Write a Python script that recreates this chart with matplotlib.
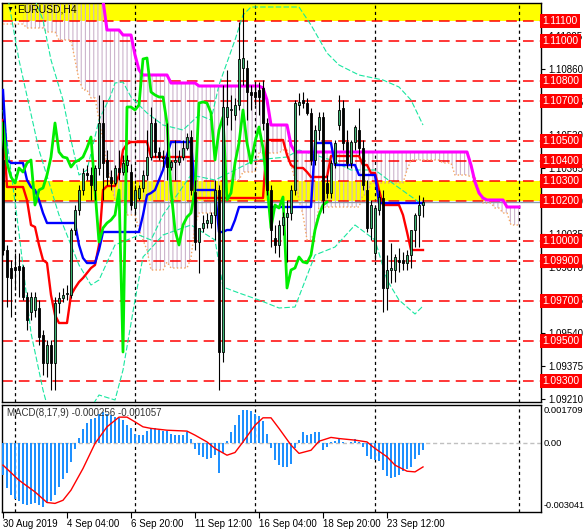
import numpy as np
import matplotlib
matplotlib.use("Agg")
import matplotlib.pyplot as plt
from matplotlib.patches import Rectangle

plt.rcParams['font.family'] = ['Liberation Sans', 'DejaVu Sans']
plt.rcParams['hatch.linewidth'] = 0.8

# EURUSD H4 candles, bar 0 = 30 Aug 2019
opens = [1.10405, 1.09955, 1.09865, 1.09870, 1.09875, 1.09870, 1.09720, 1.09645, 1.09655, 1.09665,
         1.09530, 1.09390, 1.09480, 1.09390, 1.09690, 1.09715, 1.09735, 1.09730, 1.10055, 1.10155,
         1.10255, 1.10340, 1.10330, 1.10255, 1.10365, 1.10590, 1.10405, 1.10320, 1.10290, 1.10365,
         1.10345, 1.10380, 1.10345, 1.10165, 1.10215, 1.10265, 1.10330, 1.10420, 1.10590, 1.10445,
         1.10420, 1.10420, 1.10370, 1.10395, 1.10395, 1.10420, 1.10465, 1.10520, 1.10245, 1.09995,
         1.10065, 1.10090, 1.10090, 1.10130, 1.10255, 1.09445, 1.10620, 1.10655, 1.10630, 1.10680,
         1.10865, 1.10865, 1.10745, 1.10745, 1.10755, 1.10765, 1.10590, 1.10255, 1.10015, 1.09980,
         1.10080, 1.10120, 1.10140, 1.10255, 1.10680, 1.10705, 1.10690, 1.10640, 1.10405, 1.10555,
         1.10620, 1.10290, 1.10240, 1.10390, 1.10580, 1.10665, 1.10495, 1.10390, 1.10495, 1.10555,
         1.10465, 1.10255, 1.10065, 1.09940, 1.10155, 1.10215, 1.09765, 1.09855, 1.09855, 1.09905,
         1.09905, 1.09890, 1.09930, 1.10055, 1.10130, 1.10180]
highs = [1.10605, 1.09980, 1.09905, 1.09940, 1.09940, 1.09880, 1.09745, 1.09745, 1.09745, 1.09705,
         1.09555, 1.09505, 1.09505, 1.09720, 1.09745, 1.09765, 1.09780, 1.10065, 1.10180, 1.10280,
         1.10365, 1.10380, 1.10370, 1.10380, 1.10730, 1.10705, 1.10455, 1.10355, 1.10380, 1.10455,
         1.10430, 1.10430, 1.10385, 1.10280, 1.10280, 1.10355, 1.10555, 1.10670, 1.10615, 1.10470,
         1.10455, 1.10590, 1.10405, 1.10505, 1.10455, 1.10505, 1.10540, 1.10555, 1.10305, 1.10055,
         1.10130, 1.10140, 1.10145, 1.10305, 1.10280, 1.10780, 1.10855, 1.10730, 1.10715, 1.11095,
         1.11165, 1.10905, 1.10780, 1.10795, 1.10795, 1.10805, 1.10615, 1.10280, 1.10080, 1.10105,
         1.10145, 1.10205, 1.10280, 1.10705, 1.10740, 1.10745, 1.10715, 1.10665, 1.10580, 1.10645,
         1.10645, 1.10330, 1.10405, 1.10505, 1.10730, 1.10705, 1.10555, 1.10505, 1.10580, 1.10665,
         1.10505, 1.10305, 1.10205, 1.10180, 1.10255, 1.10255, 1.09930, 1.09990, 1.09935, 1.09965,
         1.09945, 1.09955, 1.10055, 1.10140, 1.10230, 1.10220]
lows = [1.09930, 1.09670, 1.09620, 1.09755, 1.09720, 1.09705, 1.09555, 1.09605, 1.09620, 1.09480,
        1.09330, 1.09320, 1.09255, 1.09255, 1.09640, 1.09695, 1.09705, 1.09715, 1.10030, 1.10130,
        1.10230, 1.10305, 1.10205, 1.10205, 1.10330, 1.10205, 1.10280, 1.10255, 1.10280, 1.10305,
        1.10330, 1.10345, 1.10155, 1.10130, 1.10205, 1.10245, 1.10305, 1.10405, 1.10420, 1.10405,
        1.10370, 1.10305, 1.10355, 1.10305, 1.10380, 1.10405, 1.10455, 1.10230, 1.09955, 1.09840,
        1.10045, 1.10065, 1.10065, 1.10005, 1.09255, 1.09395, 1.10580, 1.10555, 1.10605, 1.10655,
        1.10780, 1.10605, 1.10655, 1.10680, 1.10630, 1.10555, 1.10230, 1.09970, 1.09940, 1.09920,
        1.10030, 1.09895, 1.10105, 1.10230, 1.10630, 1.10665, 1.10630, 1.10380, 1.10380, 1.10505,
        1.10140, 1.10215, 1.10215, 1.10365, 1.10555, 1.10455, 1.10365, 1.10365, 1.10455, 1.10430,
        1.10255, 1.10045, 1.10005, 1.09905, 1.10130, 1.09645, 1.09655, 1.09790, 1.09795, 1.09845,
        1.09855, 1.09855, 1.09865, 1.09970, 1.09970, 1.10120]
closes = [1.09955, 1.09820, 1.09815, 1.09855, 1.09855, 1.09720, 1.09605, 1.09720, 1.09720, 1.09520,
          1.09390, 1.09480, 1.09390, 1.09690, 1.09715, 1.09730, 1.09740, 1.10055, 1.10155, 1.10255,
          1.10340, 1.10330, 1.10280, 1.10365, 1.10590, 1.10390, 1.10320, 1.10290, 1.10365, 1.10345,
          1.10390, 1.10405, 1.10180, 1.10255, 1.10265, 1.10330, 1.10420, 1.10590, 1.10445, 1.10420,
          1.10415, 1.10370, 1.10395, 1.10405, 1.10420, 1.10465, 1.10520, 1.10255, 1.09995, 1.10065,
          1.10090, 1.10105, 1.10130, 1.10255, 1.09445, 1.10670, 1.10670, 1.10655, 1.10680, 1.10910,
          1.10915, 1.10745, 1.10730, 1.10720, 1.10720, 1.10590, 1.10255, 1.10055, 1.09980, 1.10080,
          1.10120, 1.10140, 1.10255, 1.10690, 1.10695, 1.10690, 1.10640, 1.10405, 1.10555, 1.10620,
          1.10205, 1.10240, 1.10390, 1.10490, 1.10655, 1.10490, 1.10390, 1.10495, 1.10570, 1.10465,
          1.10280, 1.10065, 1.10180, 1.10165, 1.10220, 1.09765, 1.09855, 1.09865, 1.09920, 1.09895,
          1.09890, 1.09930, 1.10055, 1.10130, 1.10180, 1.10195]

# Ichimoku lines as (bars, value) runs
tenkan_runs = [(1, 1.10605), (5, 1.10270), (1, 1.10205), (1, 1.10080), (1, 1.10070), (1, 1.09980),
               (1, 1.09905), (1, 1.09890), (1, 1.09730), (1, 1.09630), (3, 1.09590), (1, 1.09730),
               (1, 1.09765), (1, 1.09795), (1, 1.09815), (1, 1.09840), (1, 1.09865), (1, 1.09880),
               (1, 1.09980), (1, 1.10255), (3, 1.10275), (1, 1.10330), (1, 1.10455), (1, 1.10485),
               (5, 1.10495), (11, 1.10420), (18, 1.10215), (5, 1.10505), (1, 1.10430), (1, 1.10380),
               (3, 1.10365), (1, 1.10345), (5, 1.10320), (8, 1.10425), (2, 1.10380), (2, 1.10340),
               (1, 1.10255), (5, 1.10180), (1, 1.10130), (1, 1.10045), (4, 1.09955)]
kijun_runs = [(1, 1.10755), (1, 1.10405), (4, 1.10390), (1, 1.10305), (1, 1.10270), (1, 1.10255),
              (1, 1.10205), (1, 1.10140), (8, 1.10090), (1, 1.09980), (1, 1.09915), (3, 1.09890),
              (1, 1.09955), (10, 1.10045), (1, 1.10130), (1, 1.10230), (1, 1.10240), (1, 1.10255),
              (1, 1.10305), (1, 1.10355), (1, 1.10430), (6, 1.10495), (6, 1.10255), (2, 1.10045),
              (2, 1.10055), (1, 1.10105), (19, 1.10170), (5, 1.10490), (6, 1.10380), (5, 1.10330),
              (12, 1.10190)]
span_a_runs = [(6, 1.11085), (5, 1.11065), (3, 1.11045), (4, 1.11005), (1, 1.10905), (1, 1.10805),
               (2, 1.10755), (2, 1.10715), (1, 1.10605), (1, 1.10505), (1, 1.10380), (1, 1.10280),
               (3, 1.10205), (3, 1.10130), (1, 1.10055), (1, 1.10005), (1, 1.09955), (4, 1.09855),
               (1, 1.09895), (5, 1.09865), (1, 1.09915), (1, 1.10080), (5, 1.10140), (3, 1.10280),
               (3, 1.10305), (4, 1.10345), (6, 1.10440), (2, 1.10455), (1, 1.10380), (1, 1.10305),
               (1, 1.10205), (1, 1.10130), (2, 1.10005), (1, 1.10055), (11, 1.10170), (2, 1.10230),
               (9, 1.10290), (1, 1.10355), (8, 1.10405), (3, 1.10390), (4, 1.10330), (2, 1.10320),
               (1, 1.10255), (3, 1.10190), (2, 1.10165), (2, 1.10140), (3, 1.10080)]
span_b_runs = [(6, 1.11085), (19, 1.11405), (1, 1.11205), (4, 1.11055), (3, 1.11030), (1, 1.10930),
               (1, 1.10855), (7, 1.10830), (7, 1.10790), (16, 1.10775), (1, 1.10765), (1, 1.10705),
               (5, 1.10580), (1, 1.10480), (44, 1.10445), (1, 1.10380), (1, 1.10295), (1, 1.10240),
               (1, 1.10215), (5, 1.10205), (4, 1.10170)]

# Bollinger band lines read at bends (bar, price)
bb_upper = [(0, 1.11900), (8, 1.11205), (10, 1.11105), (12, 1.10905), (15, 1.10705), (17, 1.10505),
            (19, 1.10330), (21, 1.10355), (24, 1.10605), (27, 1.10730), (28, 1.10790), (30, 1.10795),
            (32, 1.10720), (36, 1.10640), (40, 1.10580), (45, 1.10555), (49, 1.10630), (52, 1.10605),
            (54, 1.10780), (58, 1.11005), (60, 1.11130), (62, 1.11170), (74, 1.11170), (77, 1.11080),
            (81, 1.10940), (84, 1.10880), (89, 1.10830), (95, 1.10805), (99, 1.10770), (102, 1.10705),
            (105, 1.10580)]
bb_middle = [(0, 1.11355), (4, 1.10905), (9, 1.10455), (14, 1.10130), (19, 1.09880), (22, 1.09780),
             (24, 1.09805), (28, 1.09980), (34, 1.10030), (37, 1.10005), (40, 1.10130), (47, 1.10330),
             (53, 1.10305), (58, 1.10355), (63, 1.10405), (71, 1.10420), (74, 1.10455), (82, 1.10405),
             (87, 1.10355), (93, 1.10355), (98, 1.10280), (105, 1.10180)]
bb_lower = [(0, 1.10655), (4, 1.10040), (7, 1.09540), (10, 1.09255), (12, 1.09105), (20, 1.09105),
            (24, 1.09230), (28, 1.09205), (30, 1.09355), (33, 1.09705), (35, 1.09920), (40, 1.10030),
            (47, 1.10080), (53, 1.10005), (55, 1.09770), (59, 1.09740), (64, 1.09705), (69, 1.09665),
            (73, 1.09670), (78, 1.09930), (83, 1.09970), (88, 1.10080), (93, 1.10005), (96, 1.09805),
            (99, 1.09705), (103, 1.09635), (105, 1.09675)]

# MACD(8,17,9)
macd_hist = [-0.00141, -0.00197, -0.00229, -0.00247, -0.00256, -0.00269, -0.00274, -0.00268, -0.00262, -0.00271,
             -0.00281, -0.00266, -0.00256, -0.00229, -0.00192, -0.00158, -0.00129, -0.00081, -0.00025, 0.00025,
             0.00064, 0.00092, 0.00108, 0.00114, 0.00130, 0.00138, 0.00130, 0.00126, 0.00118, 0.00114,
             0.00104, 0.00084, 0.00067, 0.00044, 0.00037, 0.00037, 0.00055, 0.00071, 0.00067, 0.00062,
             0.00055, 0.00055, 0.00040, 0.00037, 0.00037, 0.00037, 0.00049, 0.00022, -0.00025, -0.00049,
             -0.00062, -0.00070, -0.00064, -0.00052, -0.00129, -0.00040, 0.00010, 0.00049, 0.00081, 0.00126,
             0.00148, 0.00148, 0.00144, 0.00133, 0.00123, 0.00099, 0.00040, -0.00022, -0.00074, -0.00096,
             -0.00104, -0.00104, -0.00089, -0.00022, 0.00015, 0.00052, 0.00037, 0.00040, 0.00049, 0.00052,
             -0.00030, -0.00015, 0.00007, 0.00010, 0.00025, 0.00007, 0.00004, 0.00007, 0.00019, 0.00007,
             -0.00015, -0.00056, -0.00067, -0.00074, -0.00077, -0.00118, -0.00145, -0.00152, -0.00148, -0.00141,
             -0.00123, -0.00114, -0.00104, -0.00070, -0.00052, -0.00027]
macd_signal = [(0, -0.00096), (4, -0.00163), (8, -0.00215), (11, -0.00262), (13, -0.00266), (15, -0.00252),
               (17, -0.00207), (20, -0.00111), (23, 0.0), (26, 0.00074), (29, 0.00117), (31, 0.00117),
               (33, 0.00096), (35, 0.00074), (37, 0.00067), (41, 0.00059), (46, 0.00055), (48, 0.00037),
               (51, 0.00007), (53, -0.00022), (56, -0.00052), (58, -0.00040), (60, 0.00007), (63, 0.00081),
               (65, 0.00114), (67, 0.00114), (69, 0.00067), (72, -0.00007), (74, -0.00044), (77, -0.00030),
               (79, 0.00010), (82, 0.00027), (84, 0.00022), (88, 0.00015), (91, 0.00007), (93, -0.00022),
               (96, -0.00059), (98, -0.00096), (101, -0.00123), (103, -0.00126), (105, -0.00104)]

levels = [1.1110, 1.1100, 1.1080, 1.1070, 1.1050, 1.1040, 1.1030, 1.1020, 1.1000, 1.0990, 1.0970, 1.0950, 1.0930]
zones = [(1.1110, 1.1130), (1.1020, 1.1030)]
price_ticks = [1.09210, 1.09375, 1.09540, 1.09705, 1.09870, 1.10035, 1.10200, 1.10365, 1.10530, 1.10695,
               1.10860, 1.11025]
separators = [3, 33, 63, 93, 129]
time_bars = [0, 16, 32, 48, 64, 80, 96]
time_labels = ["30 Aug 2019", "4 Sep 04:00", "6 Sep 20:00", "11 Sep 12:00", "16 Sep 04:00",
               "18 Sep 20:00", "23 Sep 12:00"]
chikou_shift = 24


def expand(runs):
    return np.concatenate([np.full(n, v) for n, v in runs])


W, H = 586, 532
fig = plt.figure(figsize=(W / 100, H / 100), dpi=100)
ax = fig.add_axes([2 / W, 1 - 402 / H, 539 / W, 399 / H])
ax2 = fig.add_axes([2 / W, 1 - 512 / H, 539 / W, 107 / H])

for a in (ax, ax2):
    a.set_xlim(-0.25, 134.5)
    for s in a.spines.values():
        s.set_linewidth(1.0)
    for b in separators:
        a.axvline(b, color='black', lw=0.9, dashes=(2.5, 2.5), zorder=2)

ax.set_ylim(1.09195, 1.11190)

# zones and levels
for lo, hi in zones:
    ax.axhspan(lo, hi, color='#ffff00', lw=0, zorder=0.5)
for lv in levels:
    ax.axhline(lv, color='#ff0000', lw=1.1, dashes=(7, 4), zorder=2)
ax.axhline(closes[-1], color='#8899aa', lw=1.0, zorder=2)

# cloud
span_a = expand(span_a_runs)
span_b = expand(span_b_runs)
xs = np.arange(len(span_a))
ax.fill_between(xs, span_a, span_b, facecolor='none', edgecolor='#cdb4cd', hatch='||||', lw=0, zorder=1)
ax.plot(xs, span_a, color='#f4a460', lw=1.0, ls=':', zorder=3)
ax.plot(xs[24:], span_b[24:], color='#ff00ff', lw=2.2, zorder=4)

# bollinger
for knots in (bb_upper, bb_middle, bb_lower):
    bx, by = zip(*knots)
    ax.plot(bx, by, color='#19e6a0', lw=0.8, dashes=(5, 2), zorder=3)

tenkan = expand(tenkan_runs)
kijun = expand(kijun_runs)
bars = np.arange(len(closes))
ax.plot(bars, tenkan, color='#ff0000', lw=1.7, zorder=4)
ax.plot(bars, kijun, color='#0000ff', lw=1.7, zorder=4)
ax.plot(bars - chikou_shift, closes, color='#00ee00', lw=2.0, zorder=4)

# candles
for i, (o, h, l, c) in enumerate(zip(opens, highs, lows, closes)):
    ax.vlines(i, l, h, color='black', lw=0.8, zorder=6)
    fc = '#3cb371' if c >= o else 'black'
    ax.add_patch(Rectangle((i - 0.33, min(o, c)), 0.66, max(abs(c - o), 0.00003),
                           facecolor=fc, edgecolor='black', lw=0.6, zorder=7))

ax.set_xticks([])
ax.yaxis.tick_right()
ax.set_yticks(price_ticks)
ax.set_yticklabels([f"{p:.5f}" for p in price_ticks])
ax.tick_params(axis='y', length=3, width=0.8, pad=2, labelsize=7)
for lv in levels:
    ax.text(1.003, lv, f"{lv:.5f}", transform=ax.get_yaxis_transform(), ha='left', va='center',
            fontsize=7.4, color='white', zorder=20,
            bbox=dict(boxstyle='square,pad=0.22', fc='#ff0000', ec='none'))

ax.text(0.008, 0.983, "\u25bc", transform=ax.transAxes, fontsize=5, va='center', ha='left', zorder=20)
ax.text(0.028, 0.983, "EURUSD,H4", transform=ax.transAxes, fontsize=7.5, va='center', ha='left', zorder=20)

# MACD pane
ax2.set_ylim(-0.003041, 0.001709)
ax2.bar(bars, macd_hist, width=0.68, color='#1e90ff', zorder=3)
sx, sy = zip(*macd_signal)
ax2.plot(sx, sy, color='#ff0000', lw=1.0, zorder=4)
ax2.axhline(0, color='#c0c0c0', lw=1.0, dashes=(3, 2), zorder=2)
ax2.set_yticks([])
ax2.text(0.009, 0.925, "MACD(8,17,9) -0.000256 -0.001057", transform=ax2.transAxes, fontsize=7,
         color='#333333', va='center', ha='left', zorder=5)
ax2.text(1.004, 0.945, "0.001709", transform=ax2.transAxes, fontsize=6.8, va='center', ha='left')
ax2.text(1.004, 0.0, "0.00", transform=ax2.get_yaxis_transform(), fontsize=6.8, va='center', ha='left')
ax2.text(1.004, 0.065, "-0.003041", transform=ax2.transAxes, fontsize=6.6, va='center', ha='left')

ax2.set_xticks(time_bars)
ax2.set_xticklabels(time_labels)
ax2.tick_params(axis='x', length=4, width=0.8, pad=1, labelsize=7)
for t in ax2.get_xticklabels():
    t.set_ha('left')

fig.savefig("out.png", dpi=100)
